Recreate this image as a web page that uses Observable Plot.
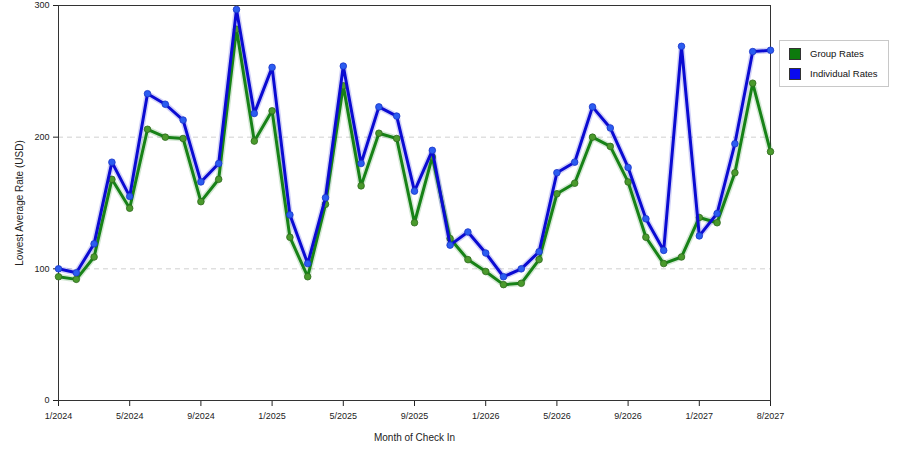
<!DOCTYPE html>
<html><head><meta charset="utf-8">
<script src="https://cdn.jsdelivr.net/npm/d3@7"></script>
<script src="https://cdn.jsdelivr.net/npm/@observablehq/plot@0.6"></script>
<style>
body{margin:0;background:#fff;font-family:"Liberation Sans",Arial,sans-serif;}
#wrap{position:relative;width:900px;height:450px;}
#legend{position:absolute;left:779px;top:40px;width:110px;height:47px;border:1px solid #c8c8c8;background:#fff;font-size:9.5px;color:#111;box-sizing:border-box;}
.item{position:absolute;left:9px;height:13px;line-height:13px;}
.sw{display:inline-block;width:12px;height:12px;vertical-align:middle;border:1px solid #333;margin-right:9px;box-sizing:border-box;}
g[aria-label="x-axis label"] text, g[aria-label="y-axis label"] text{font-size:10px;}
</style></head>
<body><div id="wrap"></div>
<script>
const months = ["1/2024","2/2024","3/2024","4/2024","5/2024","6/2024","7/2024","8/2024","9/2024","10/2024","11/2024","12/2024",
"1/2025","2/2025","3/2025","4/2025","5/2025","6/2025","7/2025","8/2025","9/2025","10/2025","11/2025","12/2025",
"1/2026","2/2026","3/2026","4/2026","5/2026","6/2026","7/2026","8/2026","9/2026","10/2026","11/2026","12/2026",
"1/2027","2/2027","4/2027","6/2027","8/2027"];
const tickLabels = ["1/2024","5/2024","9/2024","1/2025","5/2025","9/2025","1/2026","5/2026","9/2026","1/2027","8/2027"];
const seriesNames = ["Group Rates","Individual Rates"];
const groupRates = [94,92,109,168,146,206,200,199,151,168,282,197,220,124,94,149,239,163,203,199,135,185,123,107,98,88,89,107,157,165,200,193,166,124,104,109,139,135,173,241,189];
const individualRates = [100,97,119,181,155,233,225,213,166,180,297,218,253,141,104,154,254,180,223,216,159,190,118,128,112,94,100,113,173,181,223,207,177,138,114,269,125,142,195,265,266];
const lineColors = ["#178217","#0b0bd2"];
const dotFill = ["#4a9a2c","#2b5cf0"];
const dotStroke = ["#2f6a1e","#1b35c8"];

const data = [];
[groupRates, individualRates].forEach((arr, s) => arr.forEach((v, i) => data.push({month: months[i], value: v, series: seriesNames[s]})));

const font = "'Liberation Sans', Arial, sans-serif";
const chart = Plot.plot({
  width: 900, height: 450,
  marginLeft: 58, marginRight: 130, marginTop: 5, marginBottom: 50,
  style: {fontFamily: font, fontSize: "9px", color: "#222", background: "#fff"},
  x: {type: "point", domain: months, padding: 0},
  y: {domain: [0, 300]},
  color: {domain: seriesNames, range: lineColors},
  marks: [
    Plot.ruleY([100, 200], {stroke: "#d0d0d0", strokeDasharray: "5,4"}),
    Plot.axisY({ticks: [0, 100, 200, 300], tickSize: 5, tickPadding: 4, label: "Lowest Average Rate (USD)", labelAnchor: "center", labelArrow: "none", labelOffset: 43}),
    Plot.axisX({ticks: tickLabels, tickSize: 6, tickPadding: 6, label: "Month of Check In", labelAnchor: "center", labelArrow: "none", labelOffset: 40}),
    Plot.frame({stroke: "#333"}),
    ...seriesNames.map((name, s) => Plot.line(data.filter(d => d.series === name), {x: "month", y: "value", stroke: lineColors[s], strokeWidth: 6, strokeOpacity: 0.18})),
    ...seriesNames.map((name, s) => [
      Plot.line(data.filter(d => d.series === name), {x: "month", y: "value", stroke: "series", strokeWidth: 3}),
      Plot.dot(data.filter(d => d.series === name), {x: "month", y: "value", r: 3.3, fill: dotFill[s], stroke: dotStroke[s], strokeWidth: 0.8})
    ]).flat()
  ]
});
const wrap = document.getElementById("wrap");
wrap.appendChild(chart);
const legend = document.createElement("div");
legend.id = "legend";
seriesNames.forEach((name, s) => {
  const it = document.createElement("div");
  it.className = "item";
  it.style.top = (6 + s * 20) + "px";
  const sw = document.createElement("span");
  sw.className = "sw";
  sw.style.background = s === 0 ? "#0d7a0d" : "#0a0aee";
  it.appendChild(sw);
  it.appendChild(document.createTextNode(name));
  legend.appendChild(it);
});
wrap.appendChild(legend);
</script>
</body></html>
